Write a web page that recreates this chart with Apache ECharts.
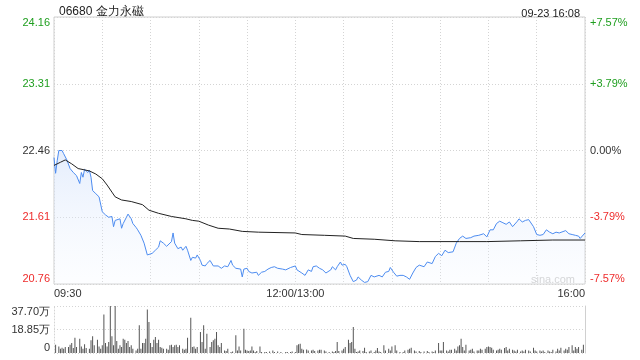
<!DOCTYPE html>
<html>
<head>
<meta charset="utf-8">
<script src="https://cdn.jsdelivr.net/npm/echarts@6/dist/echarts.min.js"></script>
<style>
html,body{margin:0;padding:0;background:#fff;}
#c{width:640px;height:360px;}
</style>
</head>
<body>
<div id="c"></div>
<script>
// ---- data ----
const titleText = '06680 金力永磁';
const dateText = '09-23 16:08';
const timeTickMinutes = [0, 150, 330];
const timeTickLabels = ['09:30', '12:00/13:00', '16:00'];
const priceTickLabels = ['20.76', '21.61', '22.46', '23.31', '24.16'];
const pctTickLabels = ['-7.57%', '-3.79%', '0.00%', '+3.79%', '+7.57%'];
const volTickLabels = ['0', '18.85万', '37.70万'];
const priceMin = 20.76, priceMax = 24.16, priceStep = 0.85;
const pctMin = -7.57, pctMax = 7.57, pctStep = 3.785;
const volMax = 377000, volStep = 188500;

// [minute since 09:30 (trading minutes), price]
const pricePoints = [
[0,22.37],[1,22.17],[2,22.33],[3,22.46],[5,22.46],[6,22.42],[7,22.43],[8,22.34],[10,22.23],[11,22.21],
[12,22.18],[14,22.14],[15,22.16],[16,22.04],[17,22.18],[18,22.12],[19,22.22],[21,22.18],[22,22.21],[23,22.12],
[24,21.95],[26,21.91],[28,21.87],[29,21.89],[30,21.68],[32,21.64],[33,21.65],[34,21.61],[36,21.62],[37,21.49],
[38,21.57],[39,21.55],[41,21.59],[42,21.47],[43,21.53],[45,21.61],[46,21.65],[48,21.59],[49,21.53],[51,21.48],
[52,21.45],[54,21.38],[56,21.28],[58,21.13],[59,21.14],[61,21.15],[63,21.19],[65,21.23],[66,21.31],[68,21.28],
[70,21.24],[71,21.25],[73,21.30],[74,21.41],[75,21.28],[77,21.21],[79,21.23],[80,21.19],[82,21.24],[83,21.19],
[85,21.06],[86,21.10],[88,21.09],[89,21.13],[91,21.06],[92,21.00],[94,20.99],[95,21.02],[97,21.06],[99,20.99],
[100,21.01],[102,20.99],[104,20.96],[105,20.94],[106,20.99],[108,20.98],[110,21.06],[111,21.00],[113,20.96],[114,20.94],
[116,20.95],[117,20.85],[118,20.95],[120,20.96],[121,20.92],[123,20.90],[124,20.92],[126,20.91],[127,20.87],[129,20.91],
[131,20.92],[133,20.95],[135,20.97],[137,20.98],[139,20.96],[142,20.95],[144,20.94],[147,20.97],[150,20.99],[151,20.94],
[154,20.90],[156,20.87],[158,20.94],[160,20.92],[161,20.98],[163,20.99],[165,20.96],[167,20.94],[169,20.90],[172,20.94],
[173,20.98],[175,20.94],[176,20.98],[178,21.04],[179,21.00],[181,21.01],[182,20.98],[184,20.87],[186,20.79],[188,20.81],
[189,20.85],[191,20.81],[193,20.78],[195,20.79],[197,20.87],[199,20.85],[202,20.87],[204,20.85],[206,20.91],[208,20.92],
[209,20.97],[211,20.91],[213,20.86],[215,20.87],[217,20.87],[219,20.85],[221,20.82],[223,20.90],[225,20.97],[227,21.00],
[230,20.98],[232,21.04],[235,21.02],[237,21.11],[239,21.15],[241,21.12],[243,21.19],[245,21.16],[248,21.17],[250,21.28],
[252,21.34],[254,21.37],[256,21.34],[259,21.35],[261,21.37],[264,21.38],[267,21.40],[269,21.36],[271,21.45],[273,21.45],
[275,21.53],[277,21.56],[279,21.54],[281,21.52],[283,21.55],[285,21.49],[288,21.56],[289,21.59],[291,21.55],[293,21.57],
[295,21.58],[296,21.57],[298,21.49],[300,21.39],[302,21.38],[304,21.39],[306,21.45],[308,21.42],[310,21.40],[312,21.42],
[314,21.41],[318,21.44],[320,21.40],[322,21.39],[324,21.38],[326,21.37],[327,21.34],[330,21.41]
];

// [minute, average price]
const avgPoints = [
[0,22.27],[4,22.31],[7,22.34],[11,22.29],[15,22.23],[22,22.20],[26,22.16],[30,22.10],[33,22.02],[36,21.93],
[38,21.87],[42,21.83],[48,21.81],[55,21.77],[59,21.70],[65,21.66],[73,21.62],[82,21.59],[86,21.57],[90,21.56],
[96,21.51],[102,21.47],[109,21.46],[117,21.43],[127,21.42],[150,21.41],[154,21.39],[168,21.38],[181,21.37],[186,21.34],
[199,21.33],[212,21.31],[227,21.30],[252,21.30],[269,21.30],[290,21.31],[310,21.32],[330,21.32]
];

// [minute, volume (shares)]
const volumePoints = [
[1,67000],[3,53000],[4,35000],[5,43000],[6,35000],[7,48000],[9,48000],[10,67000],[11,80000],[12,40000],
[13,123000],[14,48000],[16,115000],[17,53000],[18,35000],[19,70000],[20,40000],[22,35000],[23,102000],[24,134000],
[25,62000],[27,107000],[28,53000],[29,35000],[30,62000],[31,308000],[32,80000],[33,53000],[34,88000],[35,376000],
[36,134000],[37,62000],[38,377000],[39,96000],[40,35000],[41,62000],[42,48000],[43,115000],[44,107000],[45,80000],
[46,96000],[47,48000],[48,62000],[49,35000],[51,21000],[52,35000],[53,222000],[54,35000],[55,80000],[56,80000],
[57,115000],[58,348000],[59,249000],[60,80000],[61,48000],[62,107000],[63,128000],[64,80000],[65,107000],[66,48000],
[67,43000],[68,35000],[70,35000],[71,27000],[72,62000],[73,67000],[74,48000],[75,62000],[76,67000],[77,48000],
[78,62000],[80,35000],[81,27000],[82,35000],[83,123000],[85,283000],[86,48000],[87,53000],[88,35000],[89,48000],
[91,168000],[92,88000],[93,222000],[94,35000],[95,155000],[97,48000],[98,88000],[99,102000],[100,115000],[101,168000],
[102,62000],[103,48000],[104,80000],[106,21000],[107,16000],[108,35000],[110,8000],[111,13000],[113,142000],[114,21000],
[115,53000],[116,21000],[118,195000],[119,27000],[120,21000],[121,16000],[122,21000],[123,53000],[124,21000],[125,8000],
[126,16000],[128,53000],[129,8000],[131,8000],[132,8000],[134,13000],[136,21000],[137,8000],[139,13000],[141,8000],
[144,8000],[145,8000],[147,8000],[148,13000],[150,8000],[151,62000],[152,70000],[153,75000],[154,35000],[155,27000],
[157,29000],[158,21000],[160,21000],[161,27000],[162,16000],[164,21000],[165,27000],[166,27000],[168,21000],[169,13000],
[171,8000],[173,13000],[174,8000],[175,16000],[176,88000],[177,16000],[179,21000],[180,35000],[181,48000],[183,107000],
[184,80000],[185,88000],[186,209000],[187,35000],[188,8000],[189,13000],[190,21000],[192,16000],[193,43000],[194,8000],
[196,13000],[197,21000],[199,8000],[200,21000],[201,40000],[202,13000],[203,8000],[205,62000],[206,21000],[208,35000],
[209,21000],[210,53000],[212,62000],[213,21000],[215,8000],[217,8000],[218,21000],[220,27000],[221,35000],[222,43000],
[224,21000],[225,13000],[227,16000],[228,8000],[230,13000],[232,16000],[233,8000],[235,13000],[236,8000],[237,21000],
[239,80000],[240,21000],[241,21000],[242,88000],[244,21000],[245,13000],[246,27000],[247,27000],[249,35000],[250,21000],
[251,53000],[252,62000],[253,115000],[254,48000],[255,21000],[256,67000],[258,21000],[259,27000],[260,35000],[261,13000],
[263,21000],[264,21000],[265,35000],[266,27000],[268,35000],[269,48000],[270,53000],[271,48000],[272,43000],[273,27000],
[275,21000],[276,27000],[277,35000],[278,27000],[280,40000],[281,48000],[282,21000],[283,35000],[285,27000],[286,21000],
[287,13000],[288,27000],[290,13000],[291,21000],[292,13000],[293,27000],[295,21000],[296,13000],[298,43000],[299,21000],
[300,13000],[302,21000],[303,13000],[304,21000],[305,8000],[307,21000],[308,13000],[309,8000],[310,27000],[312,13000],
[313,35000],[314,21000],[315,43000],[317,21000],[318,35000],[319,27000],[320,48000],[322,62000],[323,21000],[324,48000],
[325,35000],[326,48000],[328,27000],[329,67000]
];

// ---- styles ----
const GREEN = '#1e9e1e', RED = '#ee2c2c', DARK = '#333';
const FONT = "'Liberation Sans', Arial, sans-serif";
function sideColor(i) { return i > 2 ? GREEN : (i < 2 ? RED : DARK); }
const dotted = { color: '#d4d4d4', type: [1, 2], width: 1 };

const chart = echarts.init(document.getElementById('c'), null, { renderer: 'canvas' });
chart.setOption({
  animation: false,
  backgroundColor: '#fff',
  textStyle: { fontFamily: FONT },
  title: [
    { text: titleText, left: 54, top: 1, textStyle: { fontSize: 12, fontWeight: 'normal', color: '#222', fontFamily: FONT } },
    { text: dateText, right: 55, top: 3, textStyle: { fontSize: 11, fontWeight: 'normal', color: '#222', fontFamily: FONT } }
  ],
  grid: [
    { left: 54, right: 55, top: 17, height: 267, show: true, borderColor: '#cfcfcf', borderWidth: 1 },
    { left: 54, right: 55, top: 306, height: 47, show: false }
  ],
  xAxis: [
    {
      type: 'value', gridIndex: 0, min: 0, max: 330, interval: 30,
      axisLine: { show: false }, axisTick: { show: false },
      splitLine: { show: true, lineStyle: dotted },
      axisLabel: {
        show: true, margin: 4, fontSize: 11, color: DARK, fontFamily: FONT,
        alignMinLabel: 'left', alignMaxLabel: 'right',
        formatter: function (v) {
          const k = timeTickMinutes.indexOf(Math.round(v));
          return k >= 0 ? timeTickLabels[k] : '';
        }
      }
    },
    {
      type: 'value', gridIndex: 1, min: 0, max: 330, interval: 30,
      axisLine: { show: false }, axisTick: { show: false },
      splitLine: { show: false }, axisLabel: { show: false }
    }
  ],
  yAxis: [
    {
      type: 'value', gridIndex: 0, position: 'left', min: priceMin, max: priceMax, interval: priceStep,
      axisLine: { show: false }, axisTick: { show: false },
      splitLine: { show: true, lineStyle: dotted },
      axisLabel: {
        margin: 4, fontSize: 11, fontFamily: FONT,
        verticalAlignMinLabel: 'bottom', verticalAlignMaxLabel: 'top',
        formatter: function (v, i) { return priceTickLabels[i]; },
        color: function (v, i) { return sideColor(i); }
      }
    },
    {
      type: 'value', gridIndex: 0, position: 'right', min: pctMin, max: pctMax, interval: pctStep,
      axisLine: { show: false }, axisTick: { show: false }, splitLine: { show: false },
      axisLabel: {
        margin: 5, fontSize: 11, fontFamily: FONT,
        verticalAlignMinLabel: 'bottom', verticalAlignMaxLabel: 'top',
        formatter: function (v, i) { return pctTickLabels[i]; },
        color: function (v, i) { return sideColor(i); }
      }
    },
    {
      type: 'value', gridIndex: 1, position: 'left', min: 0, max: volMax, interval: volStep,
      axisLine: { show: true, lineStyle: { color: '#d4d4d4', type: [1, 2] } }, axisTick: { show: false },
      splitLine: { show: true, lineStyle: dotted },
      axisLabel: {
        margin: 4, fontSize: 11, color: DARK, fontFamily: FONT,
        verticalAlignMinLabel: 'bottom', verticalAlignMaxLabel: 'top',
        formatter: function (v, i) { return volTickLabels[i]; }
      }
    },
    {
      type: 'value', gridIndex: 1, position: 'right', min: 0, max: volMax, interval: volStep,
      axisLine: { show: true, lineStyle: { color: '#d0d0d0' } }, axisTick: { show: false },
      splitLine: { show: false }, axisLabel: { show: false }
    }
  ],
  graphic: [
    { type: 'text', left: 531, top: 274, silent: true,
      style: { text: 'sina.com', fill: '#cfcfcf', font: "11px 'Liberation Sans', Arial, sans-serif" } }
  ],
  series: [
    {
      name: 'price', type: 'line', xAxisIndex: 0, yAxisIndex: 0,
      data: pricePoints, showSymbol: false, symbol: 'none',
      lineStyle: { color: '#4d8cf0', width: 1 },
      areaStyle: {
        origin: 'start',
        color: new echarts.graphic.LinearGradient(0, 0, 0, 1, [
          { offset: 0, color: 'rgba(205,222,250,0.75)' },
          { offset: 1, color: 'rgba(240,245,255,0.25)' }
        ])
      },
      z: 3
    },
    {
      name: 'avg', type: 'line', xAxisIndex: 0, yAxisIndex: 0,
      data: avgPoints, showSymbol: false, symbol: 'none',
      lineStyle: { color: '#222', width: 1 }, z: 4
    },
    {
      name: 'volume', type: 'bar', xAxisIndex: 1, yAxisIndex: 2,
      data: volumePoints, barWidth: 1,
      itemStyle: { color: '#555' }
    }
  ]
});
</script>
</body>
</html>
